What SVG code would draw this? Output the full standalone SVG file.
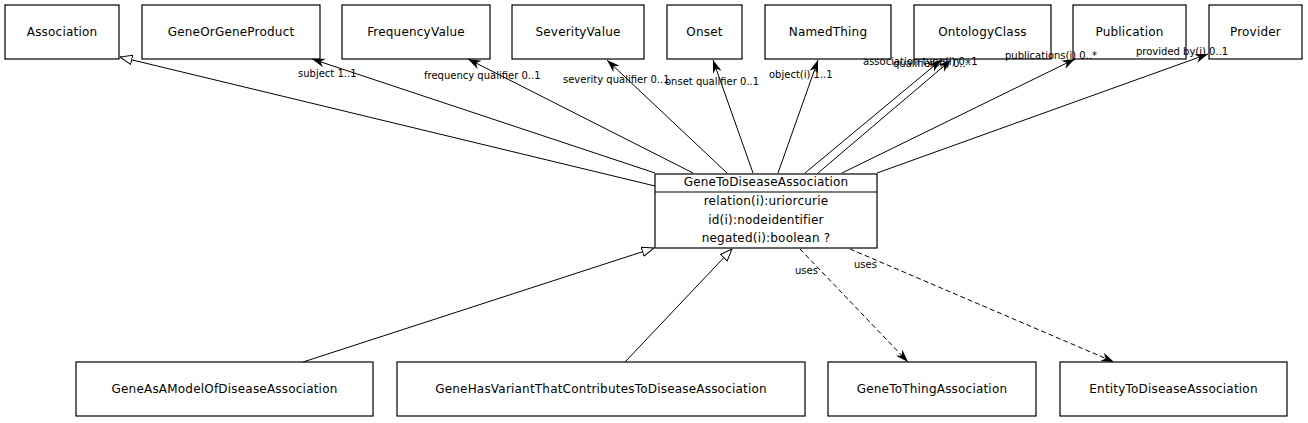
<svg xmlns="http://www.w3.org/2000/svg" width="1308" height="423" viewBox="0 0 1308 423">
<style>
.box{fill:#fff;stroke:#000;stroke-width:1.2}
.t{font-family:"DejaVu Sans","Liberation Sans",sans-serif;font-size:12px;fill:#000;text-anchor:middle;letter-spacing:0.2px}
.l{font-family:"DejaVu Sans","Liberation Sans",sans-serif;font-size:10px;fill:#000}
.e{fill:none;stroke:#000;stroke-width:1}
.d{fill:none;stroke:#000;stroke-width:1;stroke-dasharray:5,3}
</style>
<defs>
<marker id="vee" markerUnits="userSpaceOnUse" markerWidth="13" markerHeight="10" viewBox="0 0 13 10" refX="13" refY="5" orient="auto">
<path d="M0,0.5 L13,5 L0,9.5 L4,5 z" fill="#000"/>
</marker>
<marker id="tri" markerUnits="userSpaceOnUse" markerWidth="13" markerHeight="11" viewBox="0 0 13 11" refX="12.5" refY="5.5" orient="auto">
<path d="M0.5,0.8 L12.5,5.5 L0.5,10.2 z" fill="#fff" stroke="#000" stroke-width="1"/>
</marker>
</defs>
<g id="Association"><rect class="box" x="5" y="5" width="114" height="54"/><text class="t" x="62" y="35.5">Association</text></g>
<g id="GeneOrGeneProduct"><rect class="box" x="142" y="5" width="178" height="54"/><text class="t" x="231" y="35.5">GeneOrGeneProduct</text></g>
<g id="FrequencyValue"><rect class="box" x="342" y="5" width="148" height="54"/><text class="t" x="416" y="35.5">FrequencyValue</text></g>
<g id="SeverityValue"><rect class="box" x="512" y="5" width="132" height="54"/><text class="t" x="578" y="35.5">SeverityValue</text></g>
<g id="Onset"><rect class="box" x="667" y="5" width="75" height="54"/><text class="t" x="704.5" y="35.5">Onset</text></g>
<g id="NamedThing"><rect class="box" x="765" y="5" width="126" height="54"/><text class="t" x="828" y="35.5">NamedThing</text></g>
<g id="OntologyClass"><rect class="box" x="914" y="5" width="137" height="54"/><text class="t" x="982.5" y="35.5">OntologyClass</text></g>
<g id="Publication"><rect class="box" x="1073" y="5" width="113" height="54"/><text class="t" x="1129.5" y="35.5">Publication</text></g>
<g id="Provider"><rect class="box" x="1209" y="5" width="93" height="54"/><text class="t" x="1255.5" y="35.5">Provider</text></g>
<g id="GeneToDiseaseAssociation">
<rect class="box" x="655" y="174" width="222" height="74"/>
<line x1="655" y1="192" x2="877" y2="192" stroke="#000" stroke-width="1.2"/>
<text class="t" x="766" y="186">GeneToDiseaseAssociation</text>
<text class="t" x="766" y="205">relation(i):uriorcurie</text>
<text class="t" x="766" y="223.5">id(i):nodeidentifier</text>
<text class="t" x="766" y="242">negated(i):boolean ?</text>
</g>
<g id="GeneAsAModelOfDiseaseAssociation"><rect class="box" x="76" y="362" width="297" height="54"/><text class="t" x="224.5" y="392.5">GeneAsAModelOfDiseaseAssociation</text></g>
<g id="GeneHasVariantThatContributesToDiseaseAssociation"><rect class="box" x="397" y="362" width="408" height="54"/><text class="t" x="601" y="392.5">GeneHasVariantThatContributesToDiseaseAssociation</text></g>
<g id="GeneToThingAssociation"><rect class="box" x="828" y="362" width="208" height="54"/><text class="t" x="932" y="392.5">GeneToThingAssociation</text></g>
<g id="EntityToDiseaseAssociation"><rect class="box" x="1060" y="362" width="227" height="54"/><text class="t" x="1173.5" y="392.5">EntityToDiseaseAssociation</text></g>
<g id="connectors">
<path class="e" d="M655,186 L120,57" marker-end="url(#tri)"/>
<path class="e" d="M655,173 L312,59" marker-end="url(#vee)"/>
<path class="e" d="M693,173 L468,59" marker-end="url(#vee)"/>
<path class="e" d="M727,173 L607,60" marker-end="url(#vee)"/>
<path class="e" d="M753,173 L713,60" marker-end="url(#vee)"/>
<path class="e" d="M778,173 L818,60" marker-end="url(#vee)"/>
<path class="e" d="M805,173 L941,60" marker-end="url(#vee)"/>
<path class="e" d="M818,173 L951,60" marker-end="url(#vee)"/>
<path class="e" d="M842,173 L1075,59" marker-end="url(#vee)"/>
<path class="e" d="M877,173 L1208,54" marker-end="url(#vee)"/>
<path class="e" d="M303,362 L654,248" marker-end="url(#tri)"/>
<path class="e" d="M625,362 L732,249" marker-end="url(#tri)"/>
<path class="d" d="M800,249 L908,362" marker-end="url(#vee)"/>
<path class="d" d="M850,249 L1114,362" marker-end="url(#vee)"/>
<text class="l" x="298" y="77">subject 1..1</text>
<text class="l" x="424" y="79">frequency qualifier 0..1</text>
<text class="l" x="563" y="83">severity qualifier 0..1</text>
<text class="l" x="665" y="84.5">onset qualifier 0..1</text>
<text class="l" x="769" y="77.5">object(i) 1..1</text>
<text class="l" x="863" y="65">association type(i) 0..1</text>
<text class="l" x="893" y="67">qualifiers(i) 0..*</text>
<text class="l" x="1005" y="59">publications(i) 0..*</text>
<text class="l" x="1136" y="55">provided by(i) 0..1</text>
<text class="l" x="795" y="273.5">uses</text>
<text class="l" x="854" y="268">uses</text>
</g>
</svg>
